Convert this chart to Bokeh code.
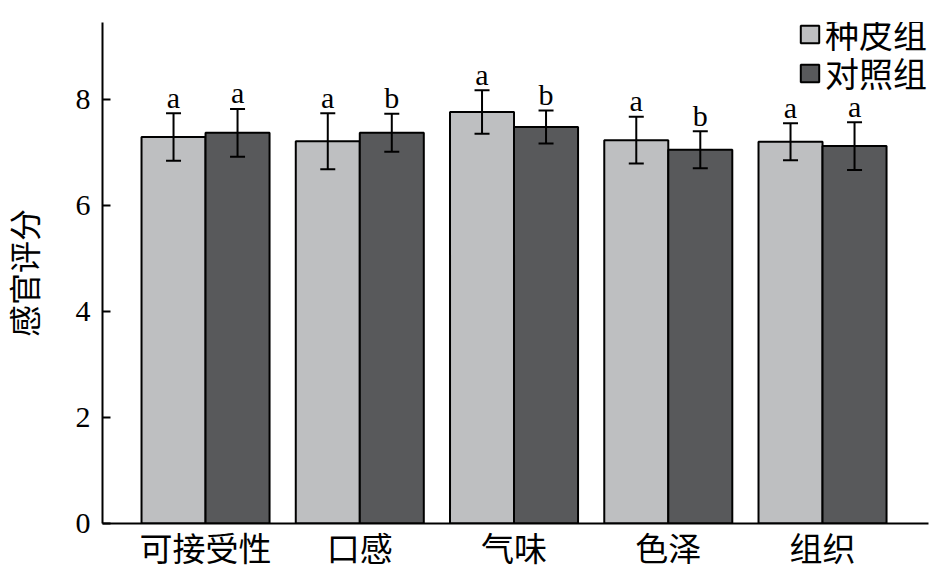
from bokeh.plotting import figure
from bokeh.models import (Range1d, ColumnDataSource, Whisker, TeeHead, FixedTicker, Legend,
                          LegendItem)
from bokeh.core.properties import value
from bokeh.embed import file_html
from bokeh.resources import INLINE

categories = ["可接受性", "口感", "气味", "色泽", "组织"]
seed_coat = [7.29, 7.21, 7.76, 7.23, 7.20]
seed_coat_err = [0.45, 0.53, 0.41, 0.44, 0.35]
seed_coat_sig = ["a", "a", "a", "a", "a"]
control = [7.37, 7.37, 7.48, 7.05, 7.12]
control_err = [0.45, 0.36, 0.31, 0.35, 0.45]
control_sig = ["a", "b", "b", "b", "a"]
series_names = ["种皮组", "对照组"]
y_ticks = [0, 2, 4, 6, 8]

LIGHT = "#bebfc1"
DARK = "#58595b"
BW = 0.415
CJK = "Liberation Serif, Noto Sans CJK SC"

p = figure(width=931, height=570, output_backend="svg", toolbar_location=None,
           x_range=Range1d(-0.668, 4.687), y_range=Range1d(0, 9.45),
           min_border_left=102, min_border_right=3, min_border_top=22, min_border_bottom=40)
p.outline_line_color = None
p.grid.visible = False
p.background_fill_color = "white"

xs = list(range(len(categories)))
x1 = [x - BW / 2 for x in xs]
x2 = [x + BW / 2 for x in xs]

s1 = ColumnDataSource(dict(x=x1, top=seed_coat, upper=[v + e for v, e in zip(seed_coat, seed_coat_err)],
                           lower=[v - e for v, e in zip(seed_coat, seed_coat_err)], sig=seed_coat_sig))
s2 = ColumnDataSource(dict(x=x2, top=control, upper=[v + e for v, e in zip(control, control_err)],
                           lower=[v - e for v, e in zip(control, control_err)], sig=control_sig))

r1 = p.vbar(x="x", top="top", width=BW, bottom=0, source=s1, fill_color=LIGHT, line_color="black", line_width=2)
r2 = p.vbar(x="x", top="top", width=BW, bottom=0, source=s2, fill_color=DARK, line_color="black", line_width=2)

for s in (s1, s2):
    w = Whisker(base="x", upper="upper", lower="lower", source=s, line_width=2, line_color="black",
                level="overlay",
                upper_head=TeeHead(size=15, line_width=2, line_color="black"),
                lower_head=TeeHead(size=15, line_width=2, line_color="black"))
    p.add_layout(w)
    p.text(x="x", y="upper", text="sig", source=s, text_align="center", text_baseline="alphabetic",
           y_offset=-16, text_font=value("Liberation Serif"), text_font_size="30px", text_color="black")

for name, rend, loc in ((series_names[0], r1, (696, 465)), (series_names[1], r2, (696, 426))):
    lg = Legend(items=[LegendItem(label=name, renderers=[rend])], location=loc)
    lg.background_fill_alpha = 0
    lg.border_line_alpha = 0
    lg.padding = 0
    lg.margin = 0
    lg.spacing = 0
    lg.glyph_width = 23
    lg.glyph_height = 22
    lg.label_standoff = 4
    lg.label_text_font = CJK
    lg.label_text_font_size = "34px"
    lg.label_text_color = "black"
    p.add_layout(lg)

p.yaxis.ticker = FixedTicker(ticks=y_ticks)
p.yaxis.major_tick_in = 8
p.yaxis.major_tick_out = 0
p.yaxis.minor_tick_line_color = None
p.yaxis.axis_line_width = 2
p.yaxis.axis_line_color = "black"
p.yaxis.major_tick_line_width = 2
p.yaxis.major_tick_line_color = "black"
p.yaxis.major_label_text_font = "Liberation Serif"
p.yaxis.major_label_text_font_size = "30px"
p.yaxis.major_label_text_color = "black"
p.yaxis.major_label_standoff = 12
p.yaxis.axis_label = "感官评分"
p.yaxis.axis_label_text_font = CJK
p.yaxis.axis_label_text_font_size = "32px"
p.yaxis.axis_label_text_font_style = "normal"
p.yaxis.axis_label_text_color = "black"
p.yaxis.axis_label_standoff = 29

p.xaxis.ticker = FixedTicker(ticks=xs)
p.xaxis.major_label_overrides = {i: c for i, c in enumerate(categories)}
p.xaxis.major_tick_line_color = None
p.xaxis.minor_tick_line_color = None
p.xaxis.axis_line_width = 2
p.xaxis.axis_line_color = "black"
p.xaxis.major_label_text_font = CJK
p.xaxis.major_label_text_font_size = "33px"
p.xaxis.major_label_text_color = "black"
p.xaxis.major_label_standoff = 2

open("out.html", "w").write(file_html(p, INLINE))
